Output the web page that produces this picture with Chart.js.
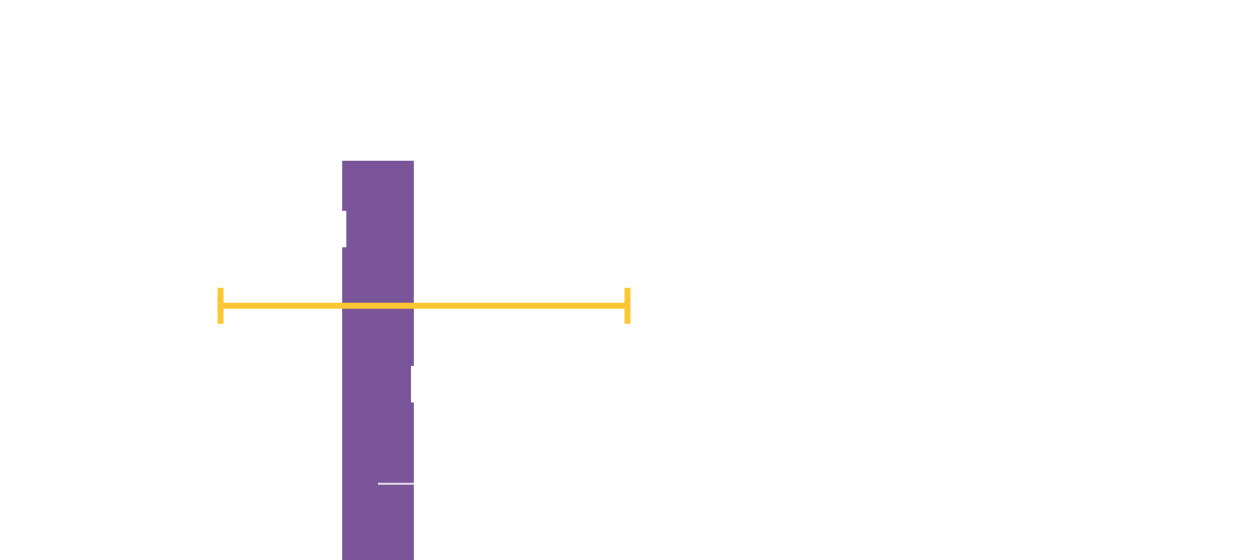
<!DOCTYPE html>
<html>
<head>
<meta charset="utf-8">
<script src="https://cdn.jsdelivr.net/npm/chart.js@4/dist/chart.umd.min.js"></script>
<style>
  html, body { margin: 0; padding: 0; background: #fff; }
  #wrap { width: 1260px; height: 560px; }
</style>
</head>
<body>
<div id="wrap"><canvas id="chart"></canvas></div>
<script>
// purple column, as a value range on the y scale
const columnX = 30.0;
const columnRanges = [[0, 71.25]];

// white gaps cut into the sides of the column
const gapLeft = { x: 27.3, range: [55.9, 62.3] };
const gapRight = { x: 32.8, range: [28.2, 34.6] };

// thin light rule inside the column
const ruleX = [30.0, 32.9];
const ruleY = 13.6;

// yellow interval (low / high) at one level
const intervalX = [17.5, 49.8];
const intervalY = 45.4;

const purple = "#7a5499";
const yellow = "#fdc633";

new Chart(document.getElementById("chart"), {
  data: {
    datasets: [
      {
        type: "line",
        order: 0,
        data: intervalX.map(x => ({ x: x, y: intervalY })),
        borderColor: yellow,
        borderWidth: 6,
        pointStyle: "line",
        rotation: 90,
        pointRadius: 18,
        pointBorderWidth: 6,
        pointBorderColor: yellow,
        pointBackgroundColor: yellow,
      },
      {
        type: "line",
        order: 1,
        data: ruleX.map(x => ({ x: x, y: ruleY })),
        borderColor: "rgba(255,255,255,0.78)",
        borderWidth: 2,
        pointRadius: 0,
      },
      {
        type: "bar",
        order: 2,
        data: [{ x: gapLeft.x, y: gapLeft.range }, { x: gapRight.x, y: gapRight.range }],
        backgroundColor: "#ffffff",
        barThickness: 4,
        grouped: false,
      },
      {
        type: "bar",
        order: 3,
        data: columnRanges.map(r => ({ x: columnX, y: r })),
        backgroundColor: purple,
        barThickness: 71,
        grouped: false,
      },
    ],
  },
  options: {
    responsive: true,
    maintainAspectRatio: false,
    animation: false,
    layout: { padding: 0, autoPadding: false },
    plugins: { legend: { display: false }, tooltip: { enabled: false } },
    scales: {
      x: { type: "linear", min: 0, max: 100, offset: false, display: false },
      y: { type: "linear", min: 0, max: 100, display: false },
    },
  },
});
</script>
</body>
</html>
